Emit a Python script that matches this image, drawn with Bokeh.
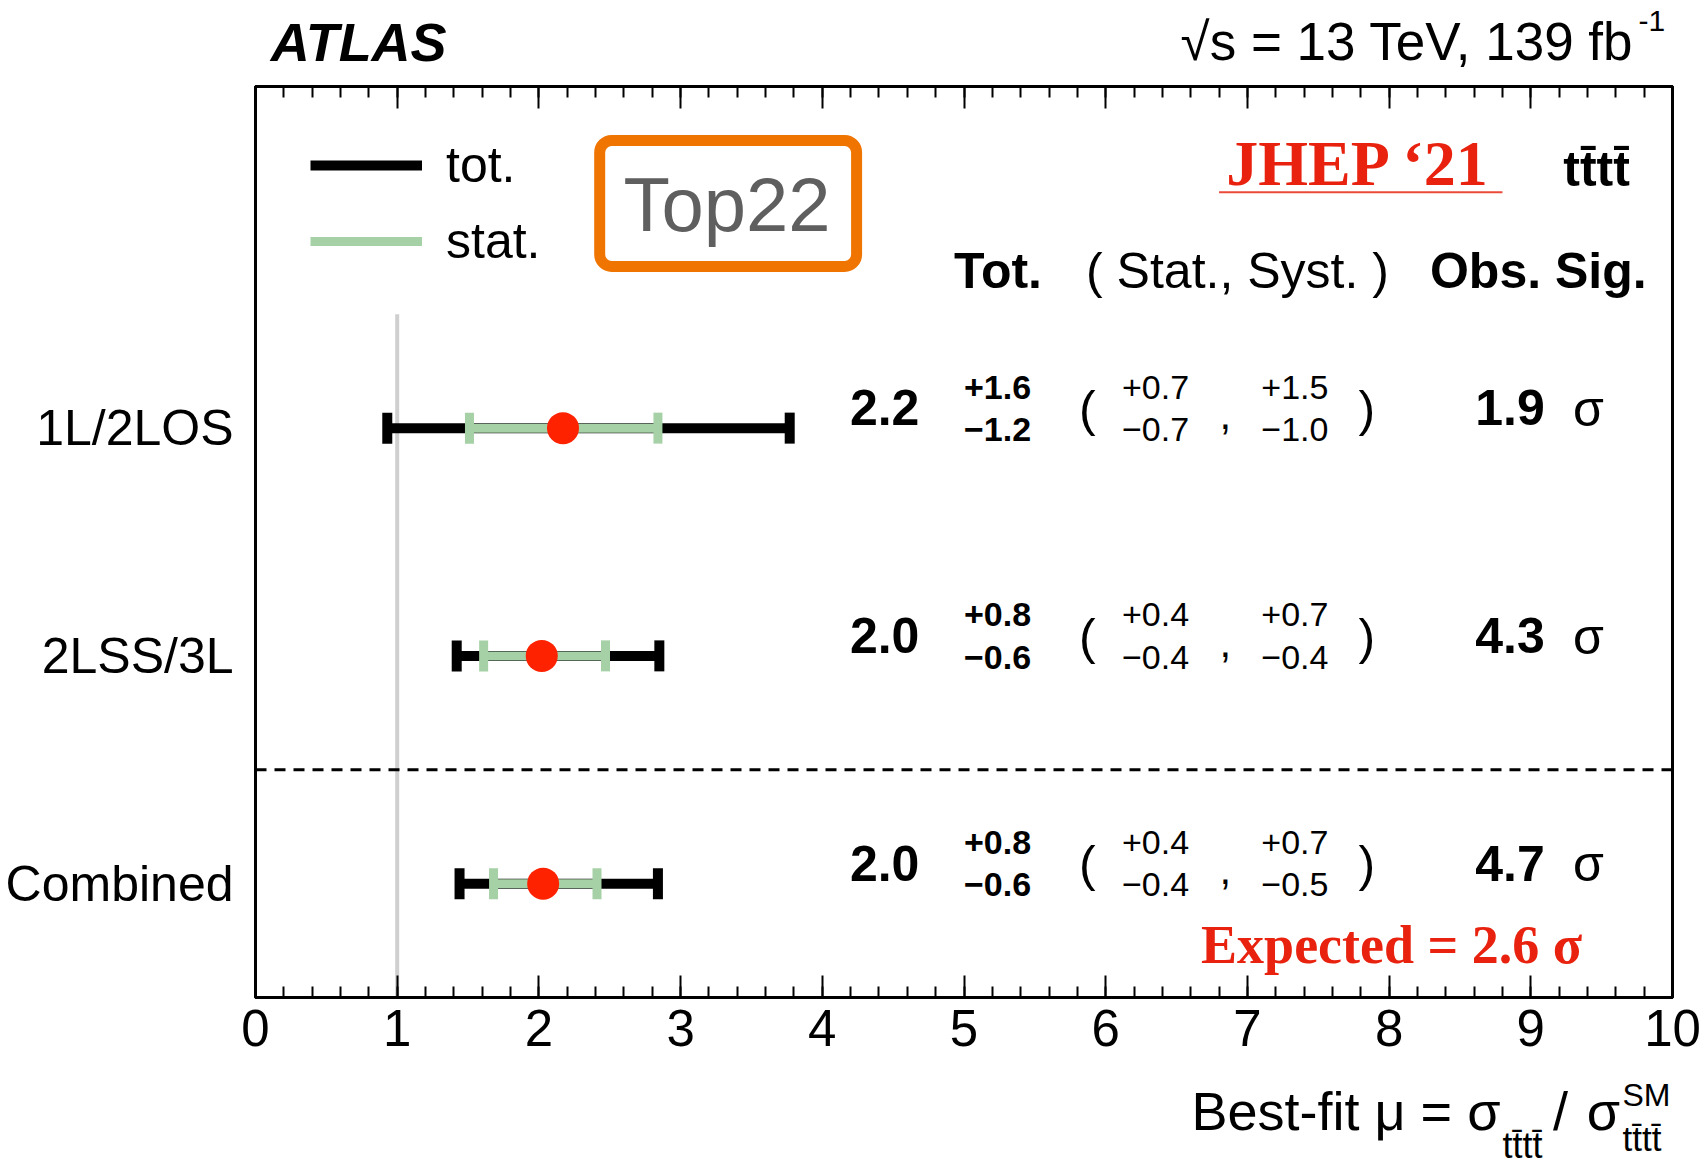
from bokeh.plotting import figure
from bokeh.layouts import column
from bokeh.models import (Range1d, LinearAxis, SingleIntervalTicker, FixedTicker, Label,
                          BoxAnnotation, Span, Legend, LegendItem, ColumnDataSource)
from bokeh.core.properties import value
from bokeh.embed import file_html
from bokeh.resources import INLINE

# ---------------- data ----------------
channels = ["1L/2LOS", "2LSS/3L", "Combined"]
mu_fit = [2.17, 2.02, 2.03]
tot_lo = [0.93, 1.42, 1.44]
tot_hi = [3.77, 2.85, 2.84]
stat_lo = [1.51, 1.61, 1.68]
stat_hi = [2.84, 2.47, 2.41]

mu_text = ["2.2", "2.0", "2.0"]
tot_up = ["+1.6", "+0.8", "+0.8"]
tot_dn = ["\u22121.2", "\u22120.6", "\u22120.6"]
stat_up = ["+0.7", "+0.4", "+0.4"]
stat_dn = ["\u22120.7", "\u22120.4", "\u22120.4"]
syst_up = ["+1.5", "+0.7", "+0.7"]
syst_dn = ["\u22121.0", "\u22120.4", "\u22120.5"]
obs_sig = ["1.9", "4.3", "4.7"]
expected_sig = "2.6"
sm_value = 1.0

FONT = "Liberation Sans"
RED = "#ff2200"
TXTRED = "#e8220e"
GREEN = "#a6d1a6"
TTTT = "tt\u0304tt\u0304"

W = 1707
HEAD_H = 76
FOOT_H = 88
MAIN_H = 1165 - HEAD_H - FOOT_H
BL, BR = 255, 35

n = len(channels)
ypos = [n - 1 - i for i in range(n)]

x_range = Range1d(0, 10)


def blank_fig(h):
    f = figure(width=W, height=h, x_range=x_range, y_range=Range1d(h, 0),
               output_backend="svg", toolbar_location=None,
               x_axis_location=None, y_axis_location=None,
               min_border_left=BL, min_border_right=BR, min_border_top=0, min_border_bottom=0)
    f.outline_line_color = None
    f.grid.visible = False
    f.background_fill_color = "white"
    f.border_fill_color = "white"
    return f


def lab(fig, x, y, text, size, style="normal", align="center", color="black", font=FONT,
        baseline="middle"):
    fig.add_layout(Label(x=x, y=y, text=text, text_font=font, text_font_size=size,
                         text_font_style=style, text_align=align, text_baseline=baseline,
                         text_color=color))


# ---------------- header ----------------
head = blank_fig(HEAD_H)
lab(head, 0.107, 41, "ATLAS", "54px", "bold italic", align="left")
lab(head, 9.725, 41, "\u221as = 13 TeV, 139 fb", "53px", align="right")
lab(head, 9.76, 20, "-1", "30px", align="left")

# ---------------- main plot ----------------
p = figure(width=W, height=MAIN_H, x_range=x_range, y_range=Range1d(-0.5, n + 0.5),
           output_backend="svg", toolbar_location=None,
           x_axis_location=None, y_axis_location=None,
           min_border_left=BL, min_border_right=BR, min_border_top=10, min_border_bottom=80)
p.grid.visible = False
p.outline_line_color = "black"
p.outline_line_width = 3
p.background_fill_color = "white"
p.border_fill_color = "white"


def xaxis(show_labels):
    ax = LinearAxis(ticker=SingleIntervalTicker(interval=1, num_minor_ticks=5))
    ax.major_tick_in = 22
    ax.major_tick_out = 0
    ax.minor_tick_in = 11
    ax.minor_tick_out = 0
    ax.axis_line_width = 3
    ax.major_tick_line_width = 2
    ax.minor_tick_line_width = 2
    ax.major_label_text_font = FONT
    ax.major_label_text_color = "black"
    if show_labels:
        ax.major_label_text_font_size = "51px"
        ax.major_label_standoff = 12
    else:
        ax.major_label_text_font_size = "0px"
        ax.major_label_text_alpha = 0
        ax.major_label_standoff = 0
    return ax


p.add_layout(xaxis(True), "below")
p.add_layout(xaxis(False), "above")

yax = LinearAxis(ticker=FixedTicker(ticks=ypos))
yax.major_label_overrides = {y: c for y, c in zip(ypos, channels)}
yax.major_tick_in = 0
yax.major_tick_out = 0
yax.minor_tick_in = 0
yax.minor_tick_out = 0
yax.axis_line_width = 3
yax.major_label_text_font = FONT
yax.major_label_text_font_size = "50px"
yax.major_label_text_color = "black"
yax.major_label_standoff = 22
p.add_layout(yax, "left")

# SM reference line and separator
p.segment(x0=[sm_value], x1=[sm_value], y0=[-0.5], y1=[n - 0.5], line_color="#cfcfcf", line_width=4)
p.add_layout(Span(location=0.5, dimension="width", line_color="black", line_width=3, line_dash="11 8"))

# error bars
src = ColumnDataSource(dict(y=ypos, mu=mu_fit, tlo=tot_lo, thi=tot_hi, slo=stat_lo, shi=stat_hi))
r_tot = p.segment(x0="tlo", x1="thi", y0="y", y1="y", source=src, line_color="black", line_width=10)
for key in ("tlo", "thi"):
    p.rect(x=key, y="y", width=10, height=31, width_units="screen", height_units="screen",
           source=src, fill_color="black", line_color=None)
r_stat = p.segment(x0="slo", x1="shi", y0="y", y1="y", source=src, line_color=GREEN, line_width=9)
for key in ("slo", "shi"):
    p.rect(x=key, y="y", width=9, height=31, width_units="screen", height_units="screen",
           source=src, fill_color=GREEN, line_color=None)
p.scatter(x="mu", y="y", source=src, size=32, fill_color=RED, line_color=None)


# table text
def col(x, dy, texts, size, style="normal", align="left"):
    p.text(x=[x] * n, y=[y + dy for y in ypos], text=texts, text_font=value(FONT),
           text_font_size=size, text_font_style=style, text_align=align,
           text_baseline="middle", text_color="black")


col(4.44, 0.09, mu_text, "50px", "bold", "center")
col(5.0, 0.18, tot_up, "34px", "bold")
col(5.0, -0.005, tot_dn, "34px", "bold")
col(5.87, 0.085, ["("] * n, "50px", "normal", "center")
col(6.115, 0.18, stat_up, "34px")
col(6.115, -0.005, stat_dn, "34px")
col(6.845, 0.06, [","] * n, "42px", "normal", "center")
col(7.098, 0.18, syst_up, "34px")
col(7.098, -0.005, syst_dn, "34px")
col(7.843, 0.085, [")"] * n, "50px", "normal", "center")
col(8.853, 0.09, obs_sig, "50px", "bold", "center")
col(9.407, 0.085, ["\u03c3"] * n, "50px", "normal", "center")

# headers
lab(p, 5.24, 2.69, "Tot.", "50px", "bold")
lab(p, 6.93, 2.69, "( Stat., Syst. )", "50px")
lab(p, 9.053, 2.69, "Obs. Sig.", "50px", "bold")
lab(p, 9.464, 3.137, TTTT, "50px", "bold")

# JHEP tag
lab(p, 7.786, 3.16, "JHEP \u201821", "64px", "bold", color=TXTRED, font="Liberation Serif")
p.segment(x0=[6.80], x1=[8.80], y0=[3.036], y1=[3.036], line_color="#ea4a3a", line_width=2)
lab(p, 8.018, -0.271, "Expected = " + expected_sig + " \u03c3", "54px", "bold", color=TXTRED,
    font="Liberation Serif")

# Top22 box
p.add_layout(BoxAnnotation(left=2.429, right=4.242, bottom=2.71, top=3.263, fill_alpha=0,
                           line_color="#f07400", line_alpha=1.0, line_width=11, border_radius=12))
lab(p, 3.328, 2.98, "Top22", "76px", color="#5f5f5f")

# legend
legend = Legend(items=[LegendItem(label="tot.", renderers=[r_tot]),
                       LegendItem(label="stat.", renderers=[r_stat])],
                location=(55, 726), glyph_width=112, glyph_height=60, spacing=16,
                label_standoff=24, label_text_font=FONT, label_text_font_size="50px",
                label_text_color="black",
                padding=0, margin=0, border_line_color=None, background_fill_alpha=0)
p.add_layout(legend)

# ---------------- footer (x-axis title) ----------------
foot = blank_fig(FOOT_H)
lab(foot, 8.786, 33, "Best-fit \u03bc = \u03c3", "54px", align="right")
lab(foot, 8.80, 68, TTTT, "36px", align="left")
lab(foot, 9.209, 33, "/", "54px")
lab(foot, 9.513, 33, "\u03c3", "54px")
lab(foot, 9.647, 17, "SM", "32px", align="left")
lab(foot, 9.647, 61, TTTT, "35px", align="left")

layout = column(head, p, foot, spacing=0)
open("out.html", "w").write(file_html(layout, INLINE))
